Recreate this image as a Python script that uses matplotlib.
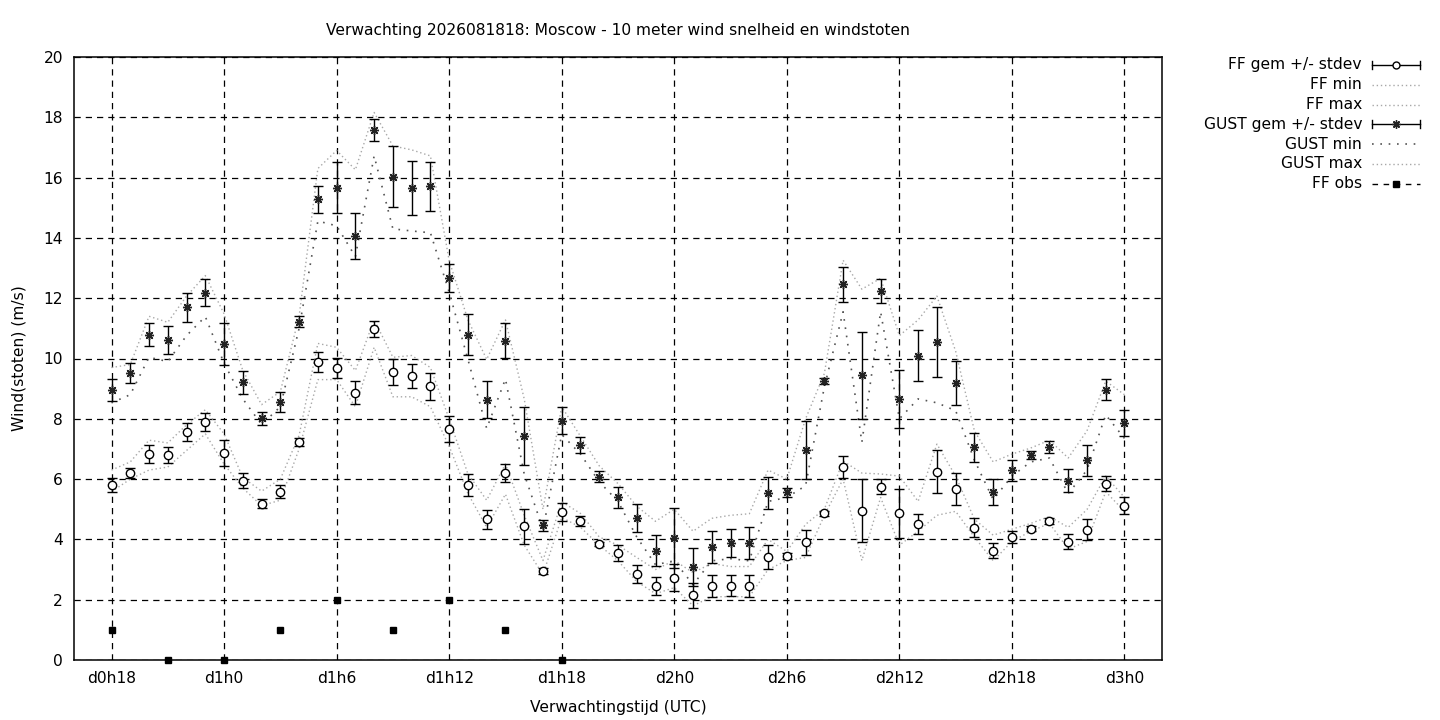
#!/usr/bin/env python3
import matplotlib
matplotlib.use("Agg")
import matplotlib.pyplot as plt
from matplotlib.lines import Line2D

TITLE = "Verwachting 2026081818: Moscow - 10 meter wind snelheid en windstoten"

# forecast hour relative to d0h0
hours = [18, 19, 20, 21, 22, 23, 24, 25, 26, 27, 28, 29, 30, 31, 32, 33, 34, 35, 36,
         37, 38, 39, 40, 41, 42, 43, 44, 45, 46, 47, 48, 49, 50, 51, 52, 53, 54, 55,
         56, 57, 58, 59, 60, 61, 62, 63, 64, 65, 66, 67, 68, 69, 70, 71, 72]

ff_mean = [5.81, 6.20, 6.83, 6.80, 7.56, 7.89, 6.87, 5.95, 5.19, 5.58, 7.23, 9.88, 9.69,
           8.86, 10.98, 9.55, 9.42, 9.08, 7.67, 5.81, 4.67, 6.20, 4.44, 2.94, 4.91, 4.61,
           3.85, 3.55, 2.86, 2.46, 2.73, 2.14, 2.46, 2.46, 2.46, 3.42, 3.45, 3.90, 4.86,
           6.41, 4.95, 5.75, 4.86, 4.50, 6.25, 5.67, 4.39, 3.63, 4.09, 4.35, 4.61, 3.93,
           4.32, 5.85, 5.11]
ff_sd = [0.23, 0.18, 0.30, 0.28, 0.31, 0.30, 0.43, 0.24, 0.14, 0.22, 0.13, 0.33, 0.34,
         0.38, 0.28, 0.43, 0.41, 0.44, 0.43, 0.37, 0.31, 0.29, 0.58, 0.10, 0.29, 0.17,
         0.08, 0.25, 0.29, 0.30, 0.45, 0.43, 0.37, 0.35, 0.36, 0.39, 0.10, 0.41, 0.09,
         0.36, 1.05, 0.24, 0.80, 0.33, 0.72, 0.52, 0.31, 0.26, 0.20, 0.08, 0.10, 0.26,
         0.35, 0.24, 0.28]
ff_min = [5.58, 6.00, 6.30, 6.40, 6.95, 7.50, 6.50, 5.70, 5.12, 5.30, 7.00, 9.30, 9.30,
          8.40, 10.37, 8.73, 8.73, 8.40, 7.09, 5.52, 4.40, 5.50, 3.81, 2.83, 4.73, 4.40,
          3.81, 3.29, 2.60, 2.20, 2.40, 1.80, 2.10, 2.10, 2.10, 3.00, 3.30, 3.40, 4.80,
          6.00, 3.30, 5.39, 3.81, 4.27, 4.80, 4.93, 4.08, 3.29, 3.93, 4.27, 4.53, 3.68,
          3.93, 5.58, 4.93]
ff_max = [6.30, 6.57, 7.29, 7.20, 7.80, 8.30, 7.50, 6.05, 5.60, 6.00, 7.45, 10.50, 10.37,
          9.60, 11.28, 10.04, 10.10, 9.70, 8.00, 6.17, 5.30, 6.50, 4.80, 3.30, 5.25, 4.86,
          4.08, 3.81, 3.40, 3.00, 3.30, 2.90, 3.20, 3.10, 3.10, 4.00, 3.60, 4.50, 5.00,
          6.60, 6.20, 6.17, 6.10, 5.26, 7.16, 6.10, 4.67, 4.14, 4.34, 4.53, 4.76, 4.40,
          4.99, 6.10, 5.39]

gust_mean = [8.95, 9.52, 10.79, 10.62, 11.70, 12.18, 10.48, 9.21, 8.01, 8.56, 11.22, 15.28,
             15.67, 14.06, 17.58, 16.03, 15.65, 15.71, 12.66, 10.79, 8.64, 10.59, 7.44, 4.47,
             7.94, 7.12, 6.08, 5.39, 4.71, 3.62, 4.05, 3.09, 3.75, 3.88, 3.88, 5.54, 5.56,
             6.96, 9.25, 12.46, 9.44, 12.24, 8.66, 10.09, 10.54, 9.19, 7.05, 5.58, 6.29,
             6.80, 7.08, 5.95, 6.62, 8.96, 7.86]
gust_sd = [0.36, 0.33, 0.38, 0.47, 0.48, 0.45, 0.71, 0.39, 0.20, 0.33, 0.18, 0.45, 0.84,
           0.77, 0.38, 1.02, 0.90, 0.82, 0.47, 0.68, 0.63, 0.58, 0.96, 0.18, 0.45, 0.26,
           0.18, 0.36, 0.47, 0.51, 1.00, 0.64, 0.53, 0.47, 0.54, 0.54, 0.16, 0.97, 0.09,
           0.59, 1.45, 0.39, 0.97, 0.85, 1.16, 0.74, 0.47, 0.43, 0.35, 0.14, 0.20, 0.39,
           0.51, 0.35, 0.43]
gust_min = [8.53, 8.80, 10.04, 9.90, 10.76, 11.39, 9.84, 8.66, 7.81, 8.40, 11.00, 14.56,
            14.40, 13.38, 16.72, 14.30, 14.23, 14.17, 12.20, 9.97, 7.68, 9.32, 6.17, 4.34,
            7.48, 6.83, 5.91, 5.26, 4.08, 3.16, 3.29, 2.50, 3.29, 3.36, 3.29, 5.26, 5.39,
            5.78, 9.06, 11.55, 7.22, 11.55, 8.00, 8.66, 8.53, 8.27, 6.63, 5.32, 6.10, 6.57,
            6.70, 5.52, 6.30, 8.13, 7.35]
gust_max = [9.70, 9.80, 11.40, 11.20, 12.07, 12.75, 11.48, 9.60, 8.47, 8.90, 11.40, 16.30,
            16.90, 16.26, 18.16, 17.05, 16.92, 16.72, 13.25, 11.28, 9.97, 11.28, 8.66, 5.00,
            8.40, 7.42, 6.44, 5.85, 5.10, 4.60, 5.00, 4.27, 4.70, 4.80, 4.85, 6.30, 6.00,
            8.00, 9.50, 13.26, 12.30, 12.66, 10.76, 11.28, 12.07, 10.24, 7.60, 6.57, 6.83,
            7.03, 7.29, 6.70, 7.60, 9.25, 8.80]

obs_hours = [18, 21, 24, 27, 30, 33, 36, 39, 42]
ff_obs = [1, 0, 0, 1, 2, 1, 2, 1, 0]

tick_hours = [18, 24, 30, 36, 42, 48, 54, 60, 66, 72]
tick_labels = ["d0h18", "d1h0", "d1h6", "d1h12", "d1h18", "d2h0", "d2h6", "d2h12",
               "d2h18", "d3h0"]

LIGHT = "#a8a8a8"
DARK = "#555555"


def main():
    plt.rcParams["font.family"] = "DejaVu Sans"
    plt.rcParams["font.size"] = 11.2

    fig = plt.figure(figsize=(14.4, 7.2), dpi=100)
    ax = fig.add_axes([74 / 1440, 60 / 720, 1088 / 1440, 603 / 720])

    # min/max envelopes
    ax.plot(hours, ff_min, color=LIGHT, lw=1, ls=(0, (1, 2)))
    ax.plot(hours, ff_max, color=LIGHT, lw=1, ls=(0, (1, 2)))
    ax.plot(hours, gust_min, color=DARK, lw=1.2, ls=(0, (1, 4)))
    ax.plot(hours, gust_max, color=LIGHT, lw=1, ls=(0, (1, 2)))

    # mean +/- stdev
    ax.errorbar(hours, ff_mean, yerr=ff_sd, fmt="o", color="black", mfc="white",
                mec="black", ms=6, mew=1, elinewidth=1, capsize=3.5, capthick=1,
                zorder=3)
    ax.errorbar(hours, gust_mean, yerr=gust_sd, fmt="none", ecolor="black",
                elinewidth=1, capsize=3.5, capthick=1, zorder=3)
    ax.plot(hours, gust_mean, ls="none", marker=(8, 2, 0), ms=6.5, mew=1,
            color="#222222", zorder=4)

    # observations
    ax.plot(obs_hours, ff_obs, ls="none", marker="s", ms=5, color="black",
            clip_on=False, zorder=5)

    ax.set_xlim(16, 74)
    ax.set_ylim(0, 20)
    ax.set_yticks(range(0, 21, 2))
    ax.set_xticks(tick_hours)
    ax.set_xticklabels(tick_labels)
    ax.tick_params(direction="in", top=True, right=True, length=0, pad=8)
    ax.grid(True, color="black", lw=0.9, ls=(0, (5, 4)))
    for s in ax.spines.values():
        s.set_linewidth(1.1)

    ax.set_title(TITLE, fontsize=11.2, pad=16)
    ax.set_ylabel("Wind(stoten) (m/s)", labelpad=12)
    ax.set_xlabel("Verwachtingstijd (UTC)", labelpad=10)

    # gnuplot-style key outside on the right
    labels = ["FF gem +/- stdev", "FF min", "FF max", "GUST gem +/- stdev",
              "GUST min", "GUST max", "FF obs"]
    x_text, x0, x1 = 1362, 1372, 1420
    for i, lab in enumerate(labels):
        yp = 65 + 19.8 * i
        fy = 1 - yp / 720
        fig.text(x_text / 1440, fy, lab, ha="right", va="center")
        xs = [x0 / 1440, x1 / 1440]
        xm = (x0 + x1) / 2880
        if lab in ("FF gem +/- stdev", "GUST gem +/- stdev"):
            fig.add_artist(Line2D(xs, [fy, fy], color="black", lw=1))
            for xc in xs:
                fig.add_artist(Line2D([xc, xc], [fy - 4 / 720, fy + 4 / 720],
                                      color="black", lw=1))
            if lab.startswith("FF"):
                fig.add_artist(Line2D([xm], [fy], ls="none", marker="o",
                                      ms=5, mfc="white", mec="black", mew=1))
            else:
                fig.add_artist(Line2D([xm], [fy], ls="none",
                                      marker=(8, 2, 0), ms=6, color="#222222", mew=1))
        elif lab == "GUST min":
            fig.add_artist(Line2D(xs, [fy, fy], color=DARK, lw=1.2, ls=(0, (1, 4))))
        elif lab == "FF obs":
            fig.add_artist(Line2D(xs, [fy, fy], color="black", lw=1, ls=(0, (4, 4))))
            fig.add_artist(Line2D([xm], [fy], ls="none", marker="s",
                                  ms=5, color="black"))
        else:
            fig.add_artist(Line2D(xs, [fy, fy], color=LIGHT, lw=1, ls=(0, (1, 2))))

    fig.savefig("out.png", dpi=100)


if __name__ == "__main__":
    main()
